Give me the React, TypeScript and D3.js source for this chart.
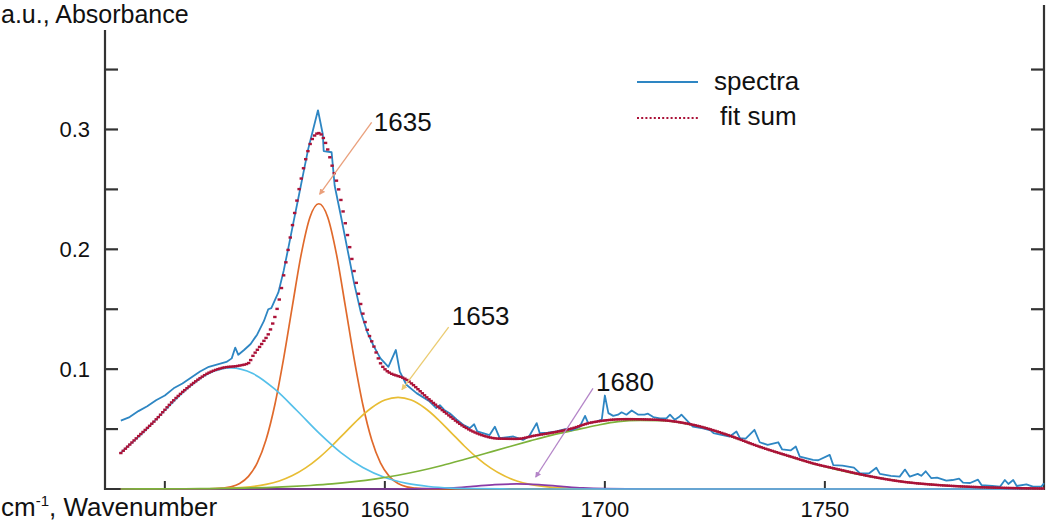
import * as d3 from 'd3';
import React, { useRef, useEffect } from 'react';

// measured spectrum, [wavenumber cm-1, absorbance]
const spectra: [number, number][] = [
  [1590, 0.057], [1592, 0.06], [1594, 0.065], [1596, 0.069], [1598, 0.074], [1600, 0.078],
  [1602, 0.084], [1604, 0.088], [1606, 0.093], [1608, 0.098], [1610, 0.102], [1612, 0.104],
  [1614, 0.106], [1615.2, 0.109], [1616, 0.118], [1616.7, 0.112], [1618, 0.116], [1619.5, 0.121],
  [1621, 0.129], [1622.5, 0.14], [1623.5, 0.15], [1624.2, 0.151], [1625.8, 0.164], [1627, 0.182],
  [1628, 0.2], [1629.2, 0.222], [1630.3, 0.242], [1631.5, 0.264], [1632.6, 0.284], [1633.7, 0.3],
  [1634.8, 0.316], [1635.9, 0.296], [1636.1, 0.282], [1637.9, 0.281], [1638.6, 0.253], [1640, 0.228],
  [1641.5, 0.2], [1643, 0.172], [1644.5, 0.148], [1646, 0.131], [1647.5, 0.119], [1649, 0.109],
  [1650.8, 0.102], [1652.5, 0.116], [1653.4, 0.098], [1654.9, 0.087], [1657.2, 0.08], [1660.2, 0.073],
  [1661.7, 0.0675], [1662.5, 0.07], [1663.5, 0.066], [1664.8, 0.063], [1666.3, 0.058], [1667.8, 0.0536],
  [1669.3, 0.0508], [1670.3, 0.054], [1671, 0.048], [1672.3, 0.0466], [1673.8, 0.045], [1675, 0.052],
  [1676.1, 0.0424], [1677.5, 0.043], [1679.2, 0.0438], [1681.4, 0.041], [1682.8, 0.044], [1684.5, 0.055],
  [1685.2, 0.0466], [1687, 0.047], [1689, 0.048], [1691, 0.05], [1692.5, 0.049], [1694.3, 0.052],
  [1695.5, 0.061], [1696.2, 0.055], [1698.1, 0.0563], [1699.3, 0.058], [1700, 0.078], [1700.8, 0.0633],
  [1701.9, 0.061], [1703, 0.062], [1703.8, 0.064], [1704.9, 0.062], [1706.1, 0.0655], [1707.6, 0.062],
  [1709, 0.062], [1709.8, 0.0628], [1711, 0.06], [1712.5, 0.059], [1714, 0.059], [1714.8, 0.062],
  [1715.9, 0.0577], [1717, 0.0605], [1717.4, 0.062], [1718.9, 0.0563], [1720, 0.052], [1722.3, 0.0505],
  [1724, 0.049], [1724.7, 0.0466], [1726.5, 0.0452], [1728.4, 0.0438], [1729.9, 0.048], [1730.7, 0.0424],
  [1732, 0.042], [1734, 0.0494], [1735.2, 0.039], [1737, 0.0368], [1739.4, 0.039], [1740.3, 0.033],
  [1742.2, 0.0322], [1743.4, 0.0354], [1744.3, 0.027], [1747.3, 0.0243], [1748.5, 0.024], [1751.1, 0.0285],
  [1751.9, 0.02], [1754, 0.0195], [1756.6, 0.0178], [1758, 0.0131], [1760, 0.013], [1761.7, 0.0177],
  [1762.5, 0.0126], [1765, 0.011], [1767, 0.0103], [1768.2, 0.0162], [1769.3, 0.0103], [1771.1, 0.0126],
  [1771.9, 0.011], [1772.9, 0.0148], [1774.2, 0.009], [1775.5, 0.0095], [1777.6, 0.007], [1779, 0.0075],
  [1780.5, 0.0087], [1781.4, 0.0053], [1783, 0.005], [1784.8, 0.0078], [1785.6, 0.0033], [1788, 0.0025],
  [1789.8, 0.0019], [1790.9, 0.0075], [1791.7, 0.0042], [1792.8, 0.0075], [1793.6, 0.0025], [1795.8, 0.0038],
  [1797.3, 0.0019], [1799.2, 0.002], [1799.8, 0.0048],
];

// fit sum (dotted curve)
const fitSum: [number, number][] = [
  [1590, 0.03], [1594, 0.044], [1598, 0.058], [1602, 0.074], [1606, 0.087], [1610, 0.097],
  [1613, 0.101], [1617, 0.103], [1619, 0.105], [1620, 0.111], [1622, 0.121], [1624, 0.133],
  [1626, 0.158], [1627.5, 0.189], [1629, 0.22], [1630.5, 0.25], [1632, 0.275], [1633.5, 0.292],
  [1635, 0.297], [1636.5, 0.289], [1638, 0.27], [1639.5, 0.25], [1641, 0.222], [1642.5, 0.192],
  [1644, 0.163], [1646, 0.133], [1647.5, 0.119], [1649, 0.105], [1650, 0.1], [1655, 0.091],
  [1660, 0.075], [1664, 0.063], [1668, 0.052], [1672, 0.045], [1676, 0.042], [1680, 0.0418],
  [1684, 0.0445], [1688, 0.047], [1692, 0.05], [1697, 0.0555], [1705, 0.0583], [1712, 0.0577],
  [1720, 0.0536], [1728, 0.045], [1735, 0.0355], [1743, 0.0262], [1748, 0.0207], [1752, 0.0173],
  [1760, 0.0108], [1767, 0.0064], [1775, 0.0035], [1782, 0.002], [1790, 0.001], [1799.8, 0.0004],
];

// fitted bands
const band1615: [number, number][] = [
  [1590, 0.0304], [1595, 0.0468], [1600, 0.0655], [1605, 0.0833], [1610, 0.0963], [1615, 0.101],
  [1620, 0.0963], [1625, 0.0833], [1630, 0.0655], [1635, 0.0468], [1640, 0.0304], [1645, 0.0179],
  [1650, 0.0096], [1655, 0.0047], [1660, 0.0021], [1665, 0.0008], [1670, 0.0003], [1680, 0], [1799.8, 0],
];
const band1635: [number, number][] = [
  [1590, 0], [1605, 0], [1610, 0.0001], [1613, 0.0007], [1615, 0.0018], [1617, 0.0046], [1619, 0.0105],
  [1621, 0.0218], [1623, 0.0411], [1625, 0.0703], [1627, 0.109], [1629, 0.153], [1631, 0.196],
  [1633, 0.227], [1635, 0.238], [1637, 0.227], [1639, 0.196], [1641, 0.153], [1643, 0.109],
  [1645, 0.0703], [1647, 0.0411], [1649, 0.0218], [1651, 0.0105], [1653, 0.0046], [1655, 0.0018],
  [1657, 0.0007], [1660, 0.0001], [1665, 0], [1799.8, 0],
];
const band1653: [number, number][] = [
  [1590, 0], [1606, 0], [1613, 0.0004], [1618, 0.0013], [1623, 0.0038], [1626, 0.0067], [1629, 0.0112],
  [1632, 0.0176], [1635, 0.026], [1638, 0.0361], [1641, 0.0473], [1644, 0.0584], [1647, 0.0678],
  [1650, 0.0742], [1653, 0.0765], [1656, 0.0742], [1659, 0.0678], [1662, 0.0584], [1665, 0.0473],
  [1668, 0.0361], [1671, 0.026], [1674, 0.0176], [1677, 0.0112], [1680, 0.0067], [1683, 0.0038],
  [1688, 0.0013], [1693, 0.0004], [1700, 0], [1799.8, 0],
];
const band1680: [number, number][] = [
  [1590, 0], [1650, 0], [1660, 0.0003], [1665, 0.0009], [1670, 0.0022], [1675, 0.0036], [1680, 0.0042],
  [1685, 0.0036], [1690, 0.0022], [1695, 0.0009], [1700, 0.0003], [1710, 0], [1799.8, 0],
];
const band1708: [number, number][] = [
  [1590, 0], [1598, 0.0001], [1608, 0.0003], [1613, 0.0005], [1618, 0.0008], [1623, 0.0012],
  [1628, 0.0019], [1633, 0.0029], [1638, 0.0042], [1643, 0.0061], [1648, 0.0085], [1653, 0.0115],
  [1658, 0.0152], [1663, 0.0196], [1668, 0.0246], [1673, 0.0298], [1678, 0.035], [1683, 0.0401],
  [1688, 0.045], [1693, 0.049], [1698, 0.053], [1703, 0.0562], [1708, 0.0572], [1713, 0.057],
  [1718, 0.0548], [1723, 0.0508], [1728, 0.0447], [1733, 0.038], [1738, 0.0318], [1743, 0.0259],
  [1748, 0.0204], [1753, 0.016], [1758, 0.012], [1763, 0.0088], [1768, 0.006], [1773, 0.0041],
  [1778, 0.0027], [1783, 0.0017], [1788, 0.0011], [1793, 0.0007], [1799.8, 0.0004],
];

const yTicks = [0.05, 0.1, 0.15, 0.2, 0.25, 0.3, 0.35];
const yTickLabels = ['', '0.1', '', '0.2', '', '0.3', ''];
const xTicks = [1600, 1650, 1700, 1750];
const xTickLabels = ['', '1650', '1700', '1750'];

const legendLabels = ['spectra', 'fit sum'];

const peakLabels = ['1635', '1653', '1680'];
const peakArrowTip: [number, number][] = [[1635.2, 0.246], [1653.9, 0.083], [1684.3, 0.01]];
const peakArrowTail: [number, number][] = [[1647, 0.306], [1664.5, 0.135], [1697.3, 0.084]];
const peakLabelAt: [number, number][] = [[1647.5, 0.2987], [1665.2, 0.1372], [1698, 0.082]];

const FONT = 'Liberation Sans, Arial, Helvetica, sans-serif';

const App = () => {
  const ref = useRef<SVGSVGElement>(null);
  const width = 1050;
  const height = 521;

  useEffect(() => {
    draw();
  });

  const draw = () => {
    const svg = d3.select(ref.current);
    svg.selectAll('*').remove();

    const x = d3.scaleLinear().domain([1586.4, 1799.8]).range([105, 1044]);
    const y = d3.scaleLinear().domain([0, 0.383]).range([489, 30]);

    const axisColor = '#333';

    // axes frame: left, right, bottom
    svg.append('line').attr('x1', 105).attr('x2', 105).attr('y1', y(0.383)).attr('y2', y(0) + 1)
      .attr('stroke', axisColor).attr('stroke-width', 2.2);
    svg.append('line').attr('x1', 1044).attr('x2', 1044).attr('y1', 5).attr('y2', y(0) + 1)
      .attr('stroke', axisColor).attr('stroke-width', 2.2);
    svg.append('line').attr('x1', 104).attr('x2', 1045).attr('y1', y(0)).attr('y2', y(0))
      .attr('stroke', axisColor).attr('stroke-width', 2.2);

    // y ticks, inward on both sides
    yTicks.forEach((t, i) => {
      svg.append('line').attr('x1', 105).attr('x2', 118).attr('y1', y(t)).attr('y2', y(t))
        .attr('stroke', axisColor).attr('stroke-width', 2.2);
      svg.append('line').attr('x1', 1031).attr('x2', 1044).attr('y1', y(t)).attr('y2', y(t))
        .attr('stroke', axisColor).attr('stroke-width', 2.2);
      if (yTickLabels[i]) {
        svg.append('text').attr('x', 90).attr('y', y(t)).attr('dy', '0.36em')
          .attr('text-anchor', 'end').style('font-family', FONT).style('font-size', '22px')
          .attr('fill', '#111').text(yTickLabels[i]);
      }
    });

    // x ticks
    xTicks.forEach((t, i) => {
      svg.append('line').attr('x1', x(t)).attr('x2', x(t)).attr('y1', y(0) - 8).attr('y2', y(0) + 1)
        .attr('stroke', axisColor).attr('stroke-width', 2);
      if (xTickLabels[i]) {
        svg.append('text').attr('x', x(t)).attr('y', 517).attr('text-anchor', 'middle')
          .style('font-family', FONT).style('font-size', '22px').attr('fill', '#111')
          .text(xTickLabels[i]);
      }
    });

    const smooth = d3.line<[number, number]>()
      .x((d) => x(d[0]))
      .y((d) => y(d[1]))
      .curve(d3.curveMonotoneX);

    // fitted bands (order matters for the colour left on the baseline)
    const bands = [
      { data: band1635, color: '#e06a2c' },
      { data: band1653, color: '#e8bd34' },
      { data: band1680, color: '#8a3aa6' },
      { data: band1615, color: '#55c0ea' },
      { data: band1708, color: '#7db23a' },
    ];
    bands.forEach((b) => {
      svg.append('path')
        .datum(b.data)
        .attr('fill', 'none')
        .attr('stroke', b.color)
        .attr('stroke-width', 1.7)
        .attr('d', smooth);
    });

    // spectrum
    svg.append('path')
      .datum(spectra)
      .attr('fill', 'none')
      .attr('stroke', '#2e86c3')
      .attr('stroke-width', 1.8)
      .attr('stroke-linejoin', 'round')
      .attr('d', d3.line<[number, number]>().x((d) => x(d[0])).y((d) => y(d[1])));

    // fit sum, drawn as dot markers every 0.5 cm-1 along the curve
    const fitPath = svg.append('path')
      .datum(fitSum)
      .attr('fill', 'none')
      .attr('stroke', 'none')
      .attr('d', smooth);
    const node = fitPath.node() as SVGPathElement;
    const total = node.getTotalLength();
    const step = x(1600.5) - x(1600);
    const dots: { px: number; py: number }[] = [];
    let nextX = x(fitSum[0][0]);
    for (let l = 0; l <= total; l += 0.3) {
      const p = node.getPointAtLength(l);
      if (p.x >= nextX) {
        dots.push({ px: p.x, py: p.y });
        nextX += step;
      }
    }
    svg.append('g').selectAll('rect')
      .data(dots)
      .join('rect')
      .attr('x', (d) => d.px - 1.7)
      .attr('y', (d) => d.py - 1.2)
      .attr('width', 3.4)
      .attr('height', 2.4)
      .attr('fill', '#ab1238');

    // peak annotations
    const arrowColors = ['#eaa07c', '#ebcc72', '#b485c8'];
    const defs = svg.append('defs');
    arrowColors.forEach((c, i) => {
      defs.append('marker')
        .attr('id', 'arrow' + i)
        .attr('viewBox', '0 0 6 6')
        .attr('refX', 5)
        .attr('refY', 3)
        .attr('markerWidth', 6)
        .attr('markerHeight', 6)
        .attr('markerUnits', 'userSpaceOnUse')
        .attr('orient', 'auto')
        .append('path')
        .attr('d', 'M0,0 L6,3 L0,6 z')
        .attr('fill', c);
    });
    peakLabels.forEach((lbl, i) => {
      svg.append('line')
        .attr('x1', x(peakArrowTail[i][0])).attr('y1', y(peakArrowTail[i][1]))
        .attr('x2', x(peakArrowTip[i][0])).attr('y2', y(peakArrowTip[i][1]))
        .attr('stroke', arrowColors[i]).attr('stroke-width', 1.3)
        .attr('marker-end', 'url(#arrow' + i + ')');
      svg.append('text')
        .attr('x', x(peakLabelAt[i][0])).attr('y', y(peakLabelAt[i][1]))
        .style('font-family', FONT).style('font-size', '26px').attr('fill', '#111')
        .text(lbl);
    });

    // handmade legend
    svg.append('line').attr('x1', 637).attr('x2', 698).attr('y1', 82).attr('y2', 82)
      .attr('stroke', '#2e86c3').attr('stroke-width', 2);
    svg.append('text').attr('x', 714).attr('y', 90).style('font-family', FONT)
      .style('font-size', '26px').attr('fill', '#111').text(legendLabels[0]);
    svg.append('line').attr('x1', 637).attr('x2', 698).attr('y1', 118).attr('y2', 118)
      .attr('stroke', '#ab1238').attr('stroke-width', 2.2).attr('stroke-dasharray', '2,2.2');
    svg.append('text').attr('x', 720).attr('y', 125).style('font-family', FONT)
      .style('font-size', '26px').attr('fill', '#111').text(legendLabels[1]);

    // axis titles
    svg.append('text').attr('x', 1).attr('y', 23).style('font-family', FONT)
      .style('font-size', '25px').attr('fill', '#111').text('a.u., Absorbance');
    const xt = svg.append('text').attr('x', 1).attr('y', 516).style('font-family', FONT)
      .style('font-size', '26px').attr('fill', '#111');
    xt.append('tspan').text('cm');
    xt.append('tspan').attr('dy', -10).style('font-size', '15px').text('-1');
    xt.append('tspan').attr('dy', 10).text(', Wavenumber');
  };

  return (
    <svg
      ref={ref}
      width={width}
      height={height}
      style={{ position: 'absolute', left: 0, top: 0, background: '#fff' }}
    ></svg>
  );
};

export default App;
